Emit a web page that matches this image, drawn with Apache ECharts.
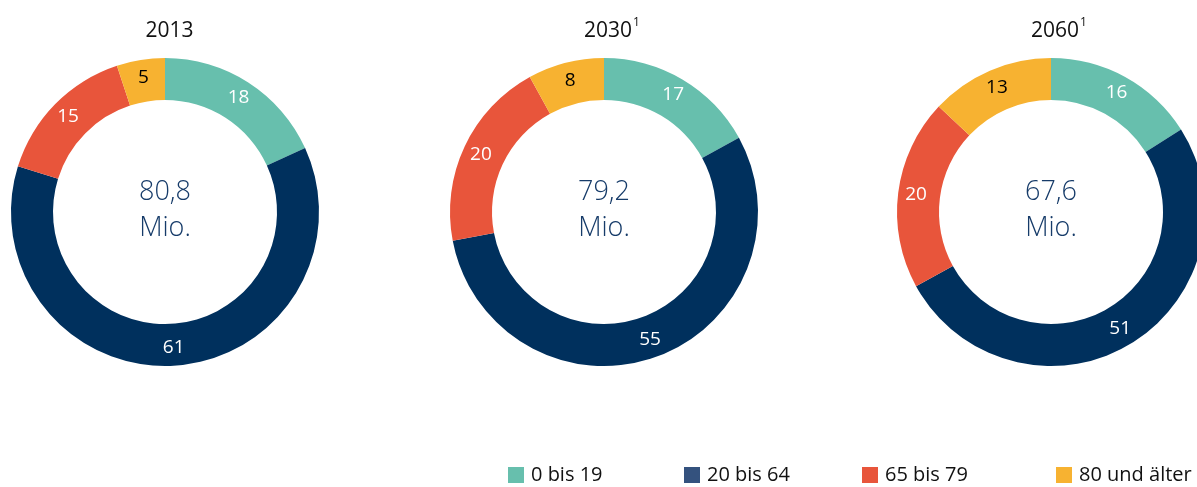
<!DOCTYPE html>
<html>
<head>
<meta charset="utf-8">
<script src="https://cdn.jsdelivr.net/npm/echarts@6/dist/echarts.min.js"></script>
<style>
  html, body { margin: 0; padding: 0; background: #fff; }
  #chart { width: 1197px; height: 487px; }
</style>
</head>
<body>
<div id="chart"></div>
<script>
  // Altersgruppen und Anteile in %
  var groups = ['0 bis 19', '20 bis 64', '65 bis 79', '80 und älter']
  var years = ['2013', '2030', '2060']
  var footnote = ['', '1', '1']
  var totals = ['80,8', '79,2', '67,6']
  var values2013 = [18, 61, 15, 5]
  var values2030 = [17, 55, 20, 8]
  var values2060 = [16, 51, 20, 13]

  var colors = ['#67bfad', '#00305d', '#e8553b', '#f7b231']
  var legendColors = ['#67bfad', '#34527e', '#e8553b', '#f7b231']
  var labelColors = ['#fff', '#fff', '#fff', '#000']
  var font = '"Open Sans", "Noto Sans", sans-serif'
  var centersX = [165, 604, 1051]
  var allValues = [values2013, values2030, values2060]

  var chart = echarts.init(document.getElementById('chart'))

  var titles = years.map(function (y, i) {
    return {
      text: '{y|' + y + '}{s|' + footnote[i] + '}',
      left: centersX[i] + (footnote[i] ? 3 : 0),
      top: 12,
      textAlign: 'center',
      textStyle: {
        fontWeight: 'normal',
        rich: {
          y: { fontFamily: font, fontSize: 21, fontWeight: 'normal', color: '#111', lineHeight: 28 },
          s: { fontFamily: font, fontSize: 12, fontWeight: 'normal', color: '#111', verticalAlign: 'top', lineHeight: 28, padding: [0, 0, 12, 1] }
        }
      }
    }
  })

  var series = allValues.map(function (vals, i) {
    return {
      type: 'pie',
      center: [centersX[i], 212],
      radius: [112, 154],
      startAngle: 90,
      clockwise: true,
      silent: true,
      label: {
        show: true,
        position: 'inside',
        formatter: '{c}',
        fontFamily: font,
        fontSize: 19,
        fontWeight: 'normal'
      },
      labelLine: { show: false },
      itemStyle: { borderWidth: 0 },
      data: vals.map(function (v, j) {
        return {
          name: groups[j],
          value: v,
          itemStyle: { color: colors[j] },
          label: { color: labelColors[j] }
        }
      })
    }
  })

  var legendLeft = [508, 684, 862, 1056]
  var legends = groups.map(function (g, j) {
    return {
      left: legendLeft[j],
      top: 465,
      itemWidth: 16,
      itemHeight: 16,
      itemGap: 0,
      padding: 0,
      icon: 'rect',
      selectedMode: false,
      textStyle: { fontFamily: font, fontSize: 20, fontWeight: 'normal', color: '#111', padding: [2, 0, 0, 2] },
      data: [{ name: g, itemStyle: { color: legendColors[j] } }]
    }
  })

  var centerTexts = totals.map(function (t, i) {
    return {
      type: 'text',
      x: centersX[i],
      y: 210,
      style: {
        text: t + '\nMio.',
        fontFamily: font,
        fontSize: 27,
        fontWeight: 300,
        lineHeight: 36,
        fill: '#163b69',
        align: 'center',
        verticalAlign: 'middle'
      }
    }
  })

  chart.setOption({
    animation: false,
    title: titles,
    legend: legends,
    series: series,
    graphic: centerTexts
  })
</script>
</body>
</html>
